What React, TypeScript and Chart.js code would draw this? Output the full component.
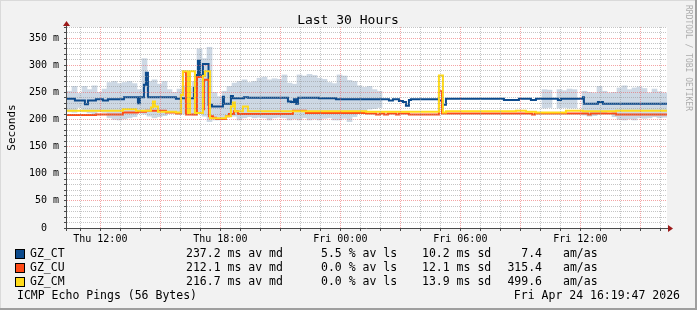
import React, { useEffect, useRef } from 'react';
import { Chart, registerables } from 'chart.js';

Chart.register(...registerables);

const FONT = '"DejaVu Sans Mono", monospace';

// time axis: hours since Thu 00:00
const X_MIN = 10 + 1 / 3;
const X_MAX = 40 + 1 / 3;
const Y_MAX = 370.3;

const xLabelHours = [12, 18, 24, 30, 36];
const xLabelTexts = ['Thu 12:00', 'Thu 18:00', 'Fri 00:00', 'Fri 06:00', 'Fri 12:00'];

// GZ_CT median (ms), step changes
const ctTimes = [10.33, 10.73, 11.23, 11.38, 11.78, 12.13, 12.38, 13.18, 13.88, 13.98, 14.18, 14.28, 14.38, 15.78, 16.03, 16.68, 16.83, 16.88, 16.98, 17.13, 17.41, 17.58, 18.13, 18.18, 18.53, 18.63, 19.18, 19.38, 21.38, 21.53, 21.68, 21.78, 21.88, 22.93, 23.78, 26.43, 26.63, 26.93, 27.13, 27.28, 27.43, 27.53, 28.93, 29.13, 29.28, 32.18, 32.93, 33.53, 33.78, 34.88, 35.03, 36.13, 36.18, 36.88, 37.13, 40.33];
const ctValues = [238, 235, 228, 235, 237, 235, 237, 241, 230, 241, 264, 286, 241, 238, 239, 258, 282, 308, 281, 302, 227, 224, 242, 229, 243, 239, 241, 240, 233, 232, 237, 229, 240, 239, 237, 235, 237, 234, 232, 225, 236, 237, 235, 227, 238, 236, 238, 236, 238, 236, 238, 241, 229, 232, 229, 229];

// GZ_CU median (ms)
const cuTimes = [10.33, 11.78, 13.13, 13.88, 14.28, 15.28, 15.78, 16.03, 16.13, 16.28, 16.83, 17.13, 17.18, 17.43, 17.63, 17.78, 18.28, 18.43, 18.68, 18.88, 21.63, 22.28, 25.28, 25.78, 25.98, 26.18, 26.38, 26.78, 26.93, 27.43, 28.93, 29.08, 33.58, 33.73, 36.38, 36.53, 37.78, 40.33];
const cuValues = [208, 209, 213, 214, 216, 213, 211, 245, 288, 209, 278, 219, 273, 206, 203, 201, 206, 210, 215, 210, 216, 212, 211, 209, 211, 209, 211, 209, 211, 209, 252, 211, 209, 211, 209, 211, 209, 209];

// GZ_CM median (ms)
const cmTimes = [10.33, 13.13, 13.78, 14.53, 14.63, 14.73, 14.88, 15.78, 16.03, 16.13, 16.38, 16.48, 16.73, 17.13, 17.23, 17.48, 18.28, 18.53, 18.63, 18.73, 19.13, 19.38, 25.28, 28.93, 29.13, 29.28, 32.78, 33.28, 33.78, 35.28, 36.13, 37.78, 40.33];
const cmValues = [216, 219, 216, 222, 233, 224, 214, 213, 245, 289, 212, 289, 212, 280, 289, 202, 206, 224, 231, 215, 224, 215, 214, 281, 213, 215, 216, 214, 213, 216, 215, 216, 216];

// smoke (min / max ping spread), sampled every 15 minutes from Thu 10:27
const SMOKE_T0 = 10.4583;
const SMOKE_STEP = 0.25;
const smokeHigh = [
  252, 261, 248, 261, 255, 262, 250, 256, 268, 270,
  266, 268, 270, 266, 255, 312, 270, 273, 265, 270,
  255, 250, 256, 262, 258, 270, 330, 312, 333, 250,
  242, 252, 261, 267, 270, 273, 268, 270, 276, 278,
  273, 275, 274, 282, 267, 265, 282, 280, 283, 281,
  276, 274, 268, 266, 282, 280, 272, 270, 262, 259,
  261, 255, 252, null, null, null, null, null, null, null,
  null, null, null, null, null, null, null, null, null, null,
  null, null, null, null, null, null, null, null, null, null,
  null, null, null, null, null, 255, 254, null, 255, 253,
  256, 255, null, 252, 250, 249, 261, 252, 249, 250,
  258, 262, 255, 258, 260, 257, 249, 256, 251, 249,
];
const smokeLow = [
  214, 213, 222, 214, 212, 210, 214, 213, 203, 200,
  199, 201, 203, 205, 212, 210, 206, 203, 205, 207,
  212, 214, 210, 210, 212, 208, 212, 206, 196, 199,
  199, 203, 205, 206, 199, 203, 205, 203, 204, 203,
  199, 203, 204, 203, 199, 201, 199, 203, 199, 201,
  199, 202, 203, 199, 199, 202, 196, 205, 216, 214,
  219, 220, 222, null, null, null, null, null, null, null,
  null, null, null, null, null, null, null, null, null, null,
  null, null, null, null, null, null, null, null, null, null,
  null, null, null, null, null, 221, 222, null, 221, 222,
  221, 221, null, 208, 206, 207, 212, 212, 215, 205,
  200, 199, 201, 199, 203, 202, 203, 205, 203, 204,
];

const seriesNames = ['GZ_CT', 'GZ_CU', 'GZ_CM'];
const seriesColors = ['#0c4a8c', '#ff4a17', '#ffdb1a'];
const legendMedian = ['237.2 ms av md', '212.1 ms av md', '216.7 ms av md'];
const legendLoss = ['5.5 % av ls', '0.0 % av ls', '0.0 % av ls'];
const legendSd = ['10.2 ms sd', '12.1 ms sd', '13.9 ms sd'];
const legendAmas = ['7.4', '315.4', '499.6'];

const TITLE = 'Last 30 Hours';
const Y_TITLE = 'Seconds';
const FOOTER_LEFT = 'ICMP Echo Pings (56 Bytes)';
const FOOTER_RIGHT = 'Fri Apr 24 16:19:47 2026';
const WATERMARK = 'RRDTOOL / TOBI OETIKER';

const SMOKE_COLOR = '#cdd8e4';

const toPoints = (xs: number[], ys: number[]) => xs.map((x, i) => ({ x, y: ys[i] }));

const decorPlugin = {
  id: 'decor',
  beforeDraw(chart: any) {
    const { ctx, chartArea: a, width, height } = chart;
    ctx.save();
    ctx.fillStyle = '#f2f2f2';
    ctx.fillRect(0, 0, width, height);
    ctx.fillStyle = '#dadada';
    ctx.fillRect(0, 0, width, 1);
    ctx.fillRect(0, 0, 1, height);
    ctx.fillStyle = '#9f9f9f';
    ctx.fillRect(0, height - 2, width, 2);
    ctx.fillRect(width - 2, 0, 2, height);
    ctx.fillStyle = '#ffffff';
    ctx.fillRect(a.left, a.top, a.right - a.left, a.bottom - a.top);
    ctx.restore();
  },
  afterDraw(chart: any) {
    const { ctx, chartArea: a } = chart;
    ctx.save();
    // axes
    ctx.strokeStyle = '#4a4a4a';
    ctx.lineWidth = 1;
    ctx.beginPath();
    ctx.moveTo(a.left - 0.5, a.top - 4);
    ctx.lineTo(a.left - 0.5, a.bottom + 3);
    ctx.moveTo(a.left - 3, a.bottom + 0.5);
    ctx.lineTo(a.right + 2, a.bottom + 0.5);
    ctx.stroke();
    ctx.fillStyle = '#9c1a1a';
    ctx.beginPath();
    ctx.moveTo(a.left - 4, a.top - 1);
    ctx.lineTo(a.left + 3, a.top - 1);
    ctx.lineTo(a.left - 0.5, a.top - 6);
    ctx.closePath();
    ctx.fill();
    ctx.beginPath();
    ctx.moveTo(a.right + 1, a.bottom - 3);
    ctx.lineTo(a.right + 1, a.bottom + 4);
    ctx.lineTo(a.right + 6, a.bottom + 0.5);
    ctx.closePath();
    ctx.fill();

    // title
    ctx.fillStyle = '#000';
    ctx.font = `13px ${FONT}`;
    ctx.textAlign = 'center';
    ctx.textBaseline = 'alphabetic';
    ctx.fillText(TITLE, 348, 24);

    // y title
    ctx.save();
    ctx.translate(12, (a.top + a.bottom) / 2);
    ctx.rotate(-Math.PI / 2);
    ctx.font = `11px ${FONT}`;
    ctx.textAlign = 'center';
    ctx.textBaseline = 'middle';
    ctx.fillText(Y_TITLE, 0, 0);
    ctx.restore();

    // watermark
    ctx.save();
    ctx.translate(688.5, 5);
    ctx.rotate(Math.PI / 2);
    ctx.font = `8px ${FONT}`;
    ctx.fillStyle = '#acacac';
    ctx.textAlign = 'left';
    ctx.textBaseline = 'middle';
    ctx.fillText(WATERMARK, 0, 0);
    ctx.restore();

    // legend
    ctx.font = `11.5px ${FONT}`;
    ctx.textBaseline = 'middle';
    seriesNames.forEach((name, i) => {
      const yc = 254.3 + i * 14;
      ctx.fillStyle = '#000';
      ctx.fillRect(15, Math.round(yc - 5), 10, 10);
      ctx.fillStyle = seriesColors[i];
      ctx.fillRect(16, Math.round(yc - 5) + 1, 8, 8);
      ctx.fillStyle = '#000';
      ctx.textAlign = 'left';
      ctx.fillText(name, 30, yc);
      ctx.fillText(legendMedian[i], 186, yc);
      ctx.fillText(legendLoss[i], 321, yc);
      ctx.fillText(legendSd[i], 422, yc);
      ctx.textAlign = 'right';
      ctx.fillText(legendAmas[i], 542, yc);
      ctx.textAlign = 'left';
      ctx.fillText('am/as', 563, yc);
    });
    ctx.textAlign = 'left';
    ctx.fillText(FOOTER_LEFT, 17, 295.8);
    ctx.textAlign = 'right';
    ctx.fillText(FOOTER_RIGHT, 680, 295.8);
    ctx.restore();
  },
};

export default function App() {
  const ref = useRef<HTMLCanvasElement>(null);

  useEffect(() => {
    document.body.style.margin = '0';
    const canvas = ref.current;
    if (!canvas) return;

    const smokeData = smokeHigh
      .map((hi, i) => (hi == null || smokeLow[i] == null ? null : { x: SMOKE_T0 + i * SMOKE_STEP, y: [smokeLow[i], hi] }))
      .filter((p) => p !== null);

    const lineDs = (idx: number, xs: number[], ys: number[], order: number) => ({
      type: 'line' as const,
      label: seriesNames[idx],
      data: toPoints(xs, ys),
      borderColor: seriesColors[idx],
      backgroundColor: seriesColors[idx],
      borderWidth: 2,
      stepped: true,
      pointRadius: 0,
      fill: false,
      order,
    });

    const xTicks: number[] = [];
    for (let h = 11; h <= 40; h++) xTicks.push(h);
    const yTicks: number[] = [];
    for (let v = 0; v <= 370; v += 10) yTicks.push(v);

    const chart = new Chart(canvas, {
      type: 'bar',
      data: {
        datasets: [
          lineDs(2, cmTimes, cmValues, 1),
          lineDs(1, cuTimes, cuValues, 2),
          lineDs(0, ctTimes, ctValues, 3),
          {
            type: 'bar' as const,
            label: 'smoke',
            data: smokeData as any,
            backgroundColor: SMOKE_COLOR,
            borderWidth: 0,
            barPercentage: 1,
            categoryPercentage: 1,
            order: 4,
          },
        ],
      } as any,
      options: {
        animation: false,
        responsive: false,
        devicePixelRatio: 1,
        events: [],
        layout: { padding: { left: 0, right: 30, top: 27, bottom: 0 } },
        plugins: { legend: { display: false }, tooltip: { enabled: false }, title: { display: false } },
        scales: {
          x: {
            type: 'linear',
            min: X_MIN,
            max: X_MAX,
            offset: false,
            afterBuildTicks: (s: any) => {
              s.ticks = xTicks.map((value) => ({ value }));
            },
            afterFit: (s: any) => {
              s.height = 82;
              s.paddingLeft = 0;
              s.paddingRight = 0;
            },
            ticks: {
              autoSkip: false,
              maxRotation: 0,
              minRotation: 0,
              padding: 2,
              color: '#000',
              font: { family: FONT, size: 10 },
              callback: (v: any) => {
                const k = xLabelHours.indexOf(Math.round(Number(v)));
                return k >= 0 ? xLabelTexts[k] : '';
              },
            },
            grid: {
              offset: false,
              z: 1,
              tickLength: 3,
              tickColor: '#4a4a4a',
              color: (c: any) =>
                c.tick && Math.round(c.tick.value) % 3 === 0 ? 'rgba(235,90,90,0.55)' : 'rgba(150,150,150,0.55)',
            },
            border: { display: false, dash: [1, 1] },
          },
          y: {
            type: 'linear',
            min: 0,
            max: Y_MAX,
            afterBuildTicks: (s: any) => {
              s.ticks = yTicks.map((value) => ({ value }));
            },
            afterFit: (s: any) => {
              s.width = 67;
              s.paddingTop = 0;
              s.paddingBottom = 0;
            },
            ticks: {
              autoSkip: false,
              padding: 5,
              color: '#000',
              font: { family: FONT, size: 10 },
              callback: (v: any) => {
                const n = Math.round(Number(v));
                if (n % 50 !== 0) return '';
                return n === 0 ? '0  ' : `${n} m`;
              },
            },
            grid: {
              z: 1,
              tickLength: 3,
              tickColor: '#4a4a4a',
              color: (c: any) =>
                c.tick && Math.round(c.tick.value) % 50 === 0 ? 'rgba(235,90,90,0.55)' : 'rgba(150,150,150,0.55)',
            },
            border: { display: false, dash: [1, 1] },
          },
        },
      } as any,
      plugins: [decorPlugin],
    });

    return () => chart.destroy();
  }, []);

  return <canvas ref={ref} width={697} height={310} style={{ display: 'block', width: 697, height: 310 }} />;
}
